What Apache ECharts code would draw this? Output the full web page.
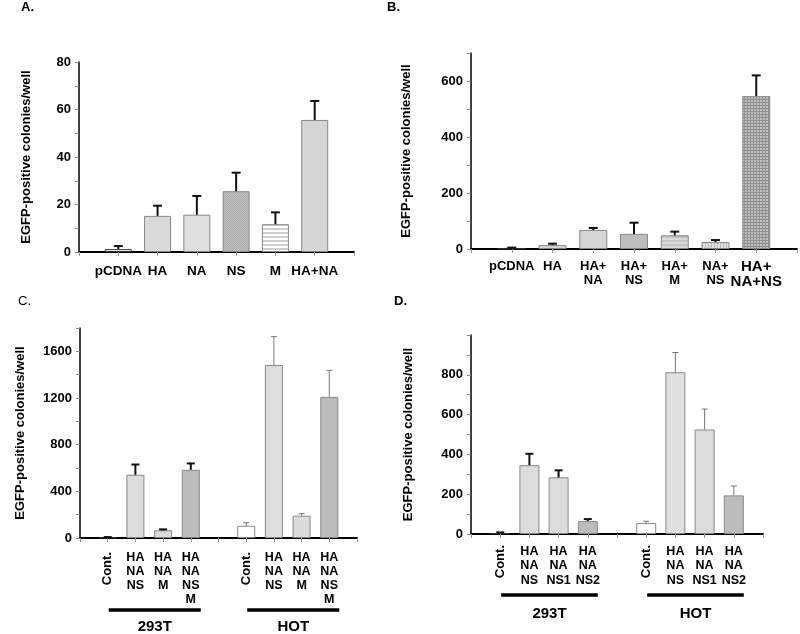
<!DOCTYPE html>
<html><head><meta charset="utf-8">
<script src="https://cdn.jsdelivr.net/npm/echarts@6/dist/echarts.min.js"></script>
<style>html,body{margin:0;padding:0;background:#fff}#c{width:800px;height:634px}</style>
</head><body><div id="c"></div>
<script>
// ---------- DATA ----------
const yName = 'EGFP-positive colonies/well';

const catsA = ['', 'pCDNA', 'HA', 'NA', 'NS', 'M', 'HA+NA', ''];
const valsA = ['-', 1.2, 15.2, 15.7, 25.6, 11.7, 55.6, '-'];
const sdA   = [0, 1.3, 4.3, 7.9, 7.8, 5.0, 8.0, 0];
const ticksA = [0, 20, 40, 60, 80];

const catsB = ['', 'pCDNA', 'HA', 'HA+\nNA', 'HA+\nNS', 'HA+\nM', 'NA+\nNS', 'HA+\nNA+NS', ''];
const valsB = ['-', 2, 14, 68, 54, 49, 25, 546, '-'];
const sdB   = [0, 3, 5, 7, 40, 13, 7, 74, 0];
const ticksB = [0, 200, 400, 600];

const catsC = ['', 'Cont.', 'HA\nNA\nNS', 'HA\nNA\nM', 'HA\nNA\nNS\nM', '', 'Cont.', 'HA\nNA\nNS', 'HA\nNA\nM', 'HA\nNA\nNS\nM', ''];
const valsC = ['-', 5, 542, 66, 585, '-', 105, 1483, 191, 1209, '-'];
const sdC   = [0, 3, 88, 8, 54, 0, 26, 243, 17, 228, 0];
const ticksC = [0, 400, 800, 1200, 1600];

const catsD = ['', 'Cont.', 'HA\nNA\nNS', 'HA\nNA\nNS1', 'HA\nNA\nNS2', '', 'Cont.', 'HA\nNA\nNS', 'HA\nNA\nNS1', 'HA\nNA\nNS2', ''];
const valsD = ['-', 5, 346, 285, 65, '-', 55, 813, 525, 194, '-'];
const sdD   = [0, 3, 57, 35, 10, 0, 9, 99, 103, 47, 0];
const ticksD = [0, 200, 400, 600, 800];

const groupNames = ['293T', 'HOT'];

// ---------- STYLE ----------
const FONT = '"Liberation Sans", Arial, sans-serif';
function pattern(kind, bg, fg, p) {
  const c = document.createElement('canvas');
  c.width = p; c.height = p;
  const ctx = c.getContext('2d');
  ctx.fillStyle = bg; ctx.fillRect(0, 0, p, p);
  ctx.fillStyle = fg;
  if (kind === 'h') ctx.fillRect(0, 0, p, Math.max(1, p / 2));
  if (kind === 'v') ctx.fillRect(0, 0, 1, p);
  if (kind === 'grid') { ctx.fillRect(0, 0, p, 1); ctx.fillRect(0, 0, 1, p); }
  if (kind === 'dot') { ctx.fillRect(0, 0, 1, 1); ctx.fillRect(1, 1, 1, 1); }
  return { image: c, repeat: 'repeat' };
}
const colA = [null, '#ffffff', '#d9d9d9', '#dedede', pattern('dot', '#c0c0c0', '#acacac', 2), pattern('h', '#ffffff', '#cfcfcf', 4), '#d6d6d6', null];
const colB = [null, '#ffffff', '#d8d8d8', '#d6d6d6', '#bdbdbd', pattern('h', '#dadada', '#c4c4c4', 4), pattern('v', '#e0e0e0', '#b8b8b8', 3), pattern('grid', '#c0c0c0', '#8e8e8e', 3), null];
const colC = [null, '#ffffff', '#dcdcdc', '#dcdcdc', '#bcbcbc', null, '#ffffff', '#dedede', '#dadada', '#bcbcbc', null];
const colD = [null, '#ffffff', '#dcdcdc', '#dcdcdc', '#bcbcbc', null, '#ffffff', '#e0e0e0', '#dcdcdc', '#bcbcbc', null];

const grids = [
  { left: 79, top: 62, width: 275, height: 190 },
  { left: 471, top: 53, width: 333, height: 196 },
  { left: 80, top: 328, width: 277, height: 210 },
  { left: 471, top: 335, width: 292, height: 199 }
];

function yAx(gi, max, step, ticks, gap) {
  return {
    type: 'value', gridIndex: gi, min: 0, max: max, interval: step,
    name: yName, nameLocation: 'middle', nameGap: gap, nameRotate: 90,
    nameTextStyle: { fontFamily: FONT, fontWeight: 'bold', fontSize: 13, color: '#000' },
    axisLine: { show: true, lineStyle: { color: '#000', width: 1.5 } },
    axisTick: { show: true, length: 4, lineStyle: { color: '#888' } },
    axisLabel: { fontFamily: FONT, fontWeight: 'bold', fontSize: 13, color: '#000', margin: 8,
      showMaxLabel: true, formatter: v => ticks.indexOf(v) >= 0 ? String(v) : '' },
    splitLine: { show: false }
  };
}
function xAx(gi, cats, fs, margin, extra) {
  return Object.assign({
    type: 'category', gridIndex: gi, data: cats, boundaryGap: false, position: 'bottom',
    axisLine: { show: true, onZero: false, lineStyle: { color: '#000', width: 2 } },
    axisTick: { show: true, length: 4, interval: 0, lineStyle: { color: '#999' } },
    axisLabel: { interval: 0, fontFamily: FONT, fontWeight: 'bold', fontSize: fs, lineHeight: 14, color: '#000', margin: margin }
  }, extra || {});
}
function contOverlay(gi, cats, margin) {
  return {
    type: 'category', gridIndex: gi, data: cats, boundaryGap: false, position: 'bottom',
    axisLine: { show: false }, axisTick: { show: false },
    axisLabel: { interval: 0, rotate: 90, fontFamily: FONT, fontWeight: 'bold', fontSize: 13, color: '#000', margin: margin,
      formatter: v => v === 'Cont.' ? v : '' }
  };
}

function barSeries(xi, yi, vals, cols, bw, border) {
  return {
    type: 'bar', xAxisIndex: xi, yAxisIndex: yi, barWidth: bw, animation: false,
    data: vals.map((v, i) => v === '-' ? '-' : { value: v, itemStyle: { color: cols[i], borderColor: (v < 10 ? '#333' : border), borderWidth: 1 } })
  };
}
function errSeries(xi, yi, vals, sds, styleFn) {
  const data = [];
  vals.forEach((v, i) => { if (v !== '-') data.push([i, v, sds[i]]); });
  return {
    type: 'custom', xAxisIndex: xi, yAxisIndex: yi, z: 5, animation: false,
    encode: { x: 0, y: 1 }, data: data,
    renderItem: (params, api) => {
      const i = api.value(0), v = api.value(1), s = api.value(2);
      const st = styleFn(i);
      const b = api.coord([i, v]), t = api.coord([i, v + s]);
      const hw = st.cap / 2;
      return { type: 'group', children: [
        { type: 'line', shape: { x1: b[0], y1: b[1], x2: t[0], y2: t[1] }, style: { stroke: st.color, lineWidth: st.w } },
        { type: 'line', shape: { x1: t[0] - hw, y1: t[1], x2: t[0] + hw, y2: t[1] }, style: { stroke: st.color, lineWidth: st.w } }
      ] };
    }
  };
}
const thick = () => ({ color: '#111', w: 2, cap: 9 });
const grouped = i => i < 5 ? { color: '#111', w: 2, cap: 8 } : { color: '#777', w: 1, cap: 6 };

const chart = echarts.init(document.getElementById('c'), null, { renderer: 'canvas' });
const tStyle = (b) => ({ fontFamily: FONT, fontWeight: b ? 'bold' : 'normal', fontSize: 13, color: '#000' });

chart.setOption({
  animation: false,
  backgroundColor: '#fff',
  title: [
    { text: 'A.', left: 21, top: 1, padding: 0, textStyle: tStyle(true) },
    { text: 'B.', left: 387, top: 1, padding: 0, textStyle: tStyle(true) },
    { text: 'C.', left: 18, top: 295, padding: 0, textStyle: tStyle(false) },
    { text: 'D.', left: 394, top: 295, padding: 0, textStyle: tStyle(true) }
  ],
  grid: grids,
  xAxis: [
    xAx(0, catsA, 13.5, 12),
    xAx(1, catsB, 13, 10, { axisLabel: { interval: 0, fontFamily: FONT, fontWeight: 'bold', fontSize: 13, lineHeight: 14, color: '#000', margin: 10,
      formatter: (v, i) => i === 7 ? v.split('\n').map(s => '{b|' + s + '}').join('\n') : v,
      rich: { b: { fontFamily: FONT, fontWeight: 'bold', fontSize: 15, lineHeight: 15, color: '#000' } } } }),
    xAx(2, catsC, 12.5, 13, { axisLabel: { interval: 0, fontFamily: FONT, fontWeight: 'bold', fontSize: 12.5, lineHeight: 14, color: '#000', margin: 13, formatter: v => v === 'Cont.' ? '' : v } }),
    contOverlay(2, catsC, 14),
    xAx(3, catsD, 12.5, 10, { axisLabel: { interval: 0, fontFamily: FONT, fontWeight: 'bold', fontSize: 12.5, lineHeight: 14.5, color: '#000', margin: 10, formatter: v => v === 'Cont.' ? '' : v } }),
    contOverlay(3, catsD, 11)
  ],
  yAxis: [
    yAx(0, 80, 10, ticksA, 46),
    yAx(1, 700, 100, ticksB, 58),
    yAx(2, 1800, 200, ticksC, 53),
    yAx(3, 1000, 100, ticksD, 56)
  ],
  series: [
    barSeries(0, 0, valsA, colA, 27, '#888'),
    errSeries(0, 0, valsA, sdA, thick),
    barSeries(1, 1, valsB, colB, 28, '#888'),
    errSeries(1, 1, valsB, sdB, thick),
    barSeries(2, 2, valsC, colC, 18, '#888'),
    errSeries(2, 2, valsC, sdC, grouped),
    barSeries(4, 3, valsD, colD, 20, '#888'),
    errSeries(4, 3, valsD, sdD, grouped)
  ]
});

// group bars and labels beneath panels C and D
function groupGraphics(xi, cats, gridBottom, lineOff, labelOff) {
  const out = [];
  const spans = [];
  let start = null;
  cats.forEach((c, i) => {
    if (c !== '' && start === null) start = i;
    if (c === '' && start !== null) { spans.push([start, i - 1]); start = null; }
  });
  spans.forEach((sp, g) => {
    const x1 = chart.convertToPixel({ xAxisIndex: xi }, sp[0]) + 1;
    const x2 = chart.convertToPixel({ xAxisIndex: xi }, sp[1]) + 10;
    const y = gridBottom + lineOff;
    out.push({ type: 'line', shape: { x1: x1, y1: y, x2: x2, y2: y }, style: { stroke: '#000', lineWidth: 3.5 } });
    out.push({ type: 'text', x: (x1 + x2) / 2, y: gridBottom + labelOff,
      style: { text: groupNames[g], font: 'bold 15px ' + FONT, fill: '#000', textAlign: 'center', textVerticalAlign: 'middle' } });
  });
  return out;
}
chart.setOption({
  graphic: [].concat(
    groupGraphics(2, catsC, grids[2].top + grids[2].height, 72, 89),
    groupGraphics(4, catsD, grids[3].top + grids[3].height, 61, 80)
  )
});
</script>
</body></html>
